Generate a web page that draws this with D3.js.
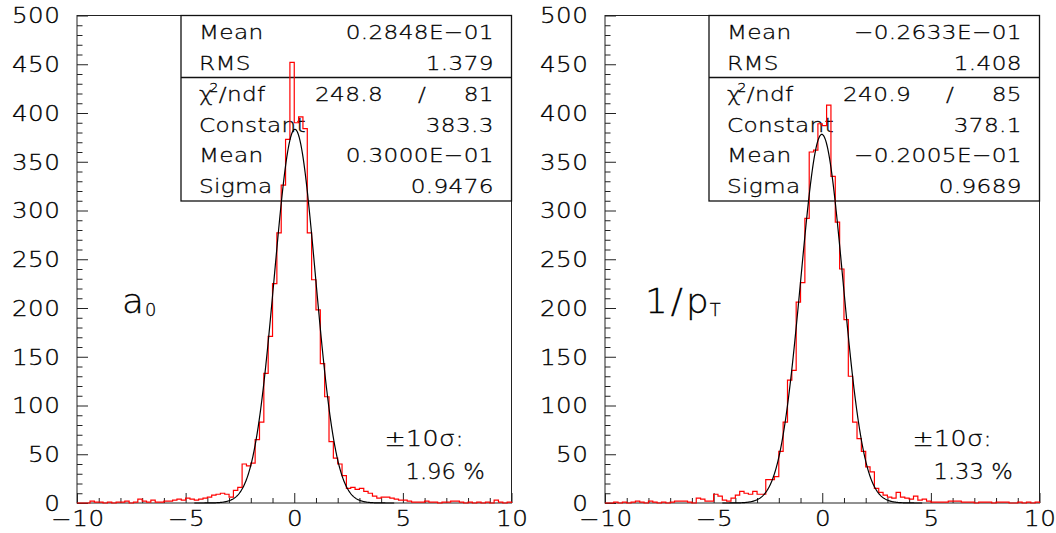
<!DOCTYPE html>
<html><head><meta charset="utf-8">
<script src="https://cdn.jsdelivr.net/npm/d3@7"></script>
<style>
html,body{margin:0;padding:0;background:#fff;}
svg text{font-family:"DejaVu Sans",sans-serif;font-weight:200;fill:#000;stroke:#000;stroke-width:0.3px;}
</style></head>
<body><svg id="c" width="1056" height="533"></svg>
<script>
// ---------- data ----------
const xDomain = [-10, 10];
const yDomain = [0, 500];
const xTickValues = [-10, -5, 0, 5, 10];
const xTickLabels = ["\u221210", "\u22125", "0", "5", "10"];
const xMinorTicks = [-9,-8,-7,-6,-4,-3,-2,-1,1,2,3,4,6,7,8,9];
const yTickValues = [0, 50, 100, 150, 200, 250, 300, 350, 400, 450, 500];
const yTickLabels = ["0","50","100","150","200","250","300","350","400","450","500"];
const yMinorTicks = d3.range(10, 500, 10).filter(v => v % 50 !== 0);

// 100 bins from -10 to 10 (width 0.2)
const a0Counts = [0,0,0,2,1,1,0,1,0,1,
 1,2,0,1,4,2,1,3,1,1,
 2,2,3,4,3,5,4,3,4,5,
 6,8,9,10,9,6,13,16,40,38,
 41,65,83,133,171,225,277,326,373,452,
 390,396,384,277,229,198,143,109,63,46,
 40,28,15,16,14,15,12,10,7,5,
 6,6,5,4,3,3,2,1,1,1,
 2,1,1,0,1,1,2,2,1,0,
 1,0,1,0,1,0,3,1,0,1];
const ptCounts = [0,0,1,0,1,0,1,2,1,0,
 2,1,0,1,0,1,2,2,2,1,
 0,5,4,2,2,9,7,3,2,5,
 8,12,10,9,12,9,9,24,24,27,
 53,83,126,136,206,226,292,360,362,389,
 387,408,335,288,240,188,130,83,66,53,
 37,32,15,11,8,6,5,11,6,5,
 4,7,3,4,2,1,1,1,1,2,
 2,2,1,1,1,0,1,1,1,0,
 1,1,1,0,0,1,0,1,0,1];

// gaussian fit: constant, mean, sigma
const a0Fit = [383.3, 0.03000, 0.9476];
const ptFit = [378.1, -0.02005, 0.9689];

const statLabels = ["Mean", "RMS"];
const a0Stats = ["0.2848E\u221201", "1.379"];
const ptStats = ["\u22120.2633E\u221201", "1.408"];
const fitLabels = ["Constant", "Mean", "Sigma"];
const a0FitText = ["383.3", "0.3000E\u221201", "0.9476"];
const ptFitText = ["378.1", "\u22120.2005E\u221201", "0.9689"];
const a0Chi2 = ["248.8", "81"];
const ptChi2 = ["240.9", "85"];
const tailLabel = "\u00b110\u03c3:";
const a0Tail = "1.96 %";
const ptTail = "1.33 %";

// ---------- drawing ----------
const svg = d3.select("#c");
const panels = [
  {off: 0,   counts: a0Counts, fit: a0Fit, stats: a0Stats, fitText: a0FitText, chi2: a0Chi2, tail: a0Tail, main: ["a"], sub: "0", lx: 45},
  {off: 528, counts: ptCounts, fit: ptFit, stats: ptStats, fitText: ptFitText, chi2: ptChi2, tail: ptTail, main: ["1", "/", "p"], sub: "T", lx: 40}
];

// horizontally stretched text (the reference font is wide)
function stext(parent, x, y, str, size, sx, anchor, ls) {
  ls = ls || 0;
  const t = parent.append("text")
    .attr("transform", `translate(${x},${y}) scale(${sx},1)`)
    .attr("x", 0).attr("y", 0)
    .attr("dx", anchor === "end" ? ls : anchor === "middle" ? ls / 2 : 0)
    .attr("font-size", size).attr("text-anchor", anchor || "start")
    .style("letter-spacing", ls + "px");
  if (str !== null) t.text(str);
  return t;
}

panels.forEach(p => {
  const L = 77 + p.off, R = 511.5 + p.off, T = 15.5, B = 503;
  const x = d3.scaleLinear().domain(xDomain).range([L, R]);
  const y = d3.scaleLinear().domain(yDomain).range([B, T]);
  const g = svg.append("g");

  // frame
  g.append("rect").attr("x", L).attr("y", T).attr("width", R - L).attr("height", B - T)
    .attr("fill", "none").attr("stroke", "#222").attr("stroke-width", 1);

  const SX = 1.2, TF = 20.5;
  // y axis
  const yMaj = g.append("g").attr("transform", `translate(${L},0)`)
    .call(d3.axisLeft(y).tickValues(yTickValues).tickSize(-11).tickPadding(17)
      .tickFormat((d, i) => yTickLabels[i]));
  const yMin = g.append("g").attr("transform", `translate(${L},0)`)
    .call(d3.axisLeft(y).tickValues(yMinorTicks).tickSize(-5.5).tickFormat(""));
  // x axis
  const xMaj = g.append("g").attr("transform", `translate(0,${B})`)
    .call(d3.axisBottom(x).tickValues(xTickValues).tickSize(-10).tickPadding(8)
      .tickFormat((d, i) => xTickLabels[i]));
  const xMin = g.append("g").attr("transform", `translate(0,${B})`)
    .call(d3.axisBottom(x).tickValues(xMinorTicks).tickSize(-5).tickFormat(""));
  [yMaj, yMin, xMaj, xMin].forEach(a => {
    a.select(".domain").remove();
    a.selectAll("line").attr("stroke", "#222").attr("stroke-width", 1);
    a.selectAll("text").attr("font-size", TF).attr("fill", "#000")
      .style("font-family", '"DejaVu Sans",sans-serif').style("font-weight", 200)
      .style("letter-spacing", "0.5px");
  });
  yMaj.selectAll("text").attr("x", -17 / SX).attr("dx", 0.5).attr("dy", "0.36em")
    .attr("transform", `scale(${SX},1)`);
  xMaj.selectAll("text").attr("dx", 0.25).attr("transform", `scale(${SX},1)`).attr("x", 0);

  // stats box (transparent: histogram passes over it)
  const bx0 = L + 104, bx1 = R, by0 = T, bsep = 77.5, by1 = 201;
  g.append("rect").attr("x", bx0).attr("y", by0).attr("width", bx1 - bx0).attr("height", by1 - by0)
    .attr("fill", "none").attr("stroke", "#111").attr("stroke-width", 1.3);
  g.append("line").attr("x1", bx0).attr("x2", bx1).attr("y1", bsep).attr("y2", bsep)
    .attr("stroke", "#111").attr("stroke-width", 1.3);

  const fs = 20, ssx = 1.16, sls = 0.3;
  const lx = bx0 + 18, vx = R - 18;
  const rowTop = [by0 + 15.5 + 1, by0 + 46.5 + 1];
  const rowBot = d3.range(4).map(i => bsep + (by1 - bsep) / 8 * (2 * i + 1) + 0.5);
  const bl = 0.3645 * fs;

  statLabels.forEach((s, i) => {
    stext(g, lx, rowTop[i] + bl, s, fs, ssx, "start", sls);
    stext(g, vx, rowTop[i] + bl, p.stats[i], fs, ssx, "end", sls);
  });
  // chi2 row
  const ct = stext(g, lx, rowBot[0] + bl, null, fs, ssx, "start", sls);
  ct.append("tspan").text("\u03c7");
  ct.append("tspan").attr("font-size", 12).attr("dy", -9).attr("dx", -3).text("2");
  ct.append("tspan").attr("dy", 9).text("/ndf");
  stext(g, R - 128.8, rowBot[0] + bl, p.chi2[0], fs, ssx, "end", sls);
  stext(g, R - 89.5, rowBot[0] + bl, "/", fs, ssx, "middle", sls);
  stext(g, vx, rowBot[0] + bl, p.chi2[1], fs, ssx, "end", sls);
  fitLabels.forEach((s, i) => {
    stext(g, lx, rowBot[i + 1] + bl, s, fs, ssx, "start", sls);
    stext(g, vx, rowBot[i + 1] + bl, p.fitText[i], fs, ssx, "end", sls);
  });

  // histogram
  const w = (xDomain[1] - xDomain[0]) / p.counts.length;
  let d = `M${x(xDomain[0])},${y(0)}`;
  p.counts.forEach((c, i) => { d += `V${y(c)}H${x(xDomain[0] + (i + 1) * w)}`; });
  d += `V${y(0)}`;
  g.append("path").attr("d", d).attr("fill", "none").attr("stroke", "#ff0000").attr("stroke-width", 1.2);

  // gaussian fit curve
  const [C, m, s] = p.fit;
  const pts = d3.range(-4.6, 4.6001, 0.02);
  g.append("path").datum(pts)
    .attr("d", d3.line().x(t => x(t)).y(t => y(C * Math.exp(-0.5 * ((t - m) / s) ** 2))))
    .attr("fill", "none").attr("stroke", "#000").attr("stroke-width", 1.2);

  // variable label
  const lab = stext(g, L + p.lx, 313, null, 34, 1.05, "start", 0);
  p.main.forEach((ch, i) => {
    const ts = lab.append("tspan").text(ch);
    if (i > 0) ts.attr("dx", 3);
  });
  lab.append("tspan").attr("font-size", 17).attr("dy", 3).attr("dx", 1).text(p.sub);

  stext(g, L + 307.5, 445.5, tailLabel, 22, 1.15, "start", 0.3);
  stext(g, L + 328.5, 479, p.tail, 22, 1.03, "start", 0);
});
</script></body></html>
